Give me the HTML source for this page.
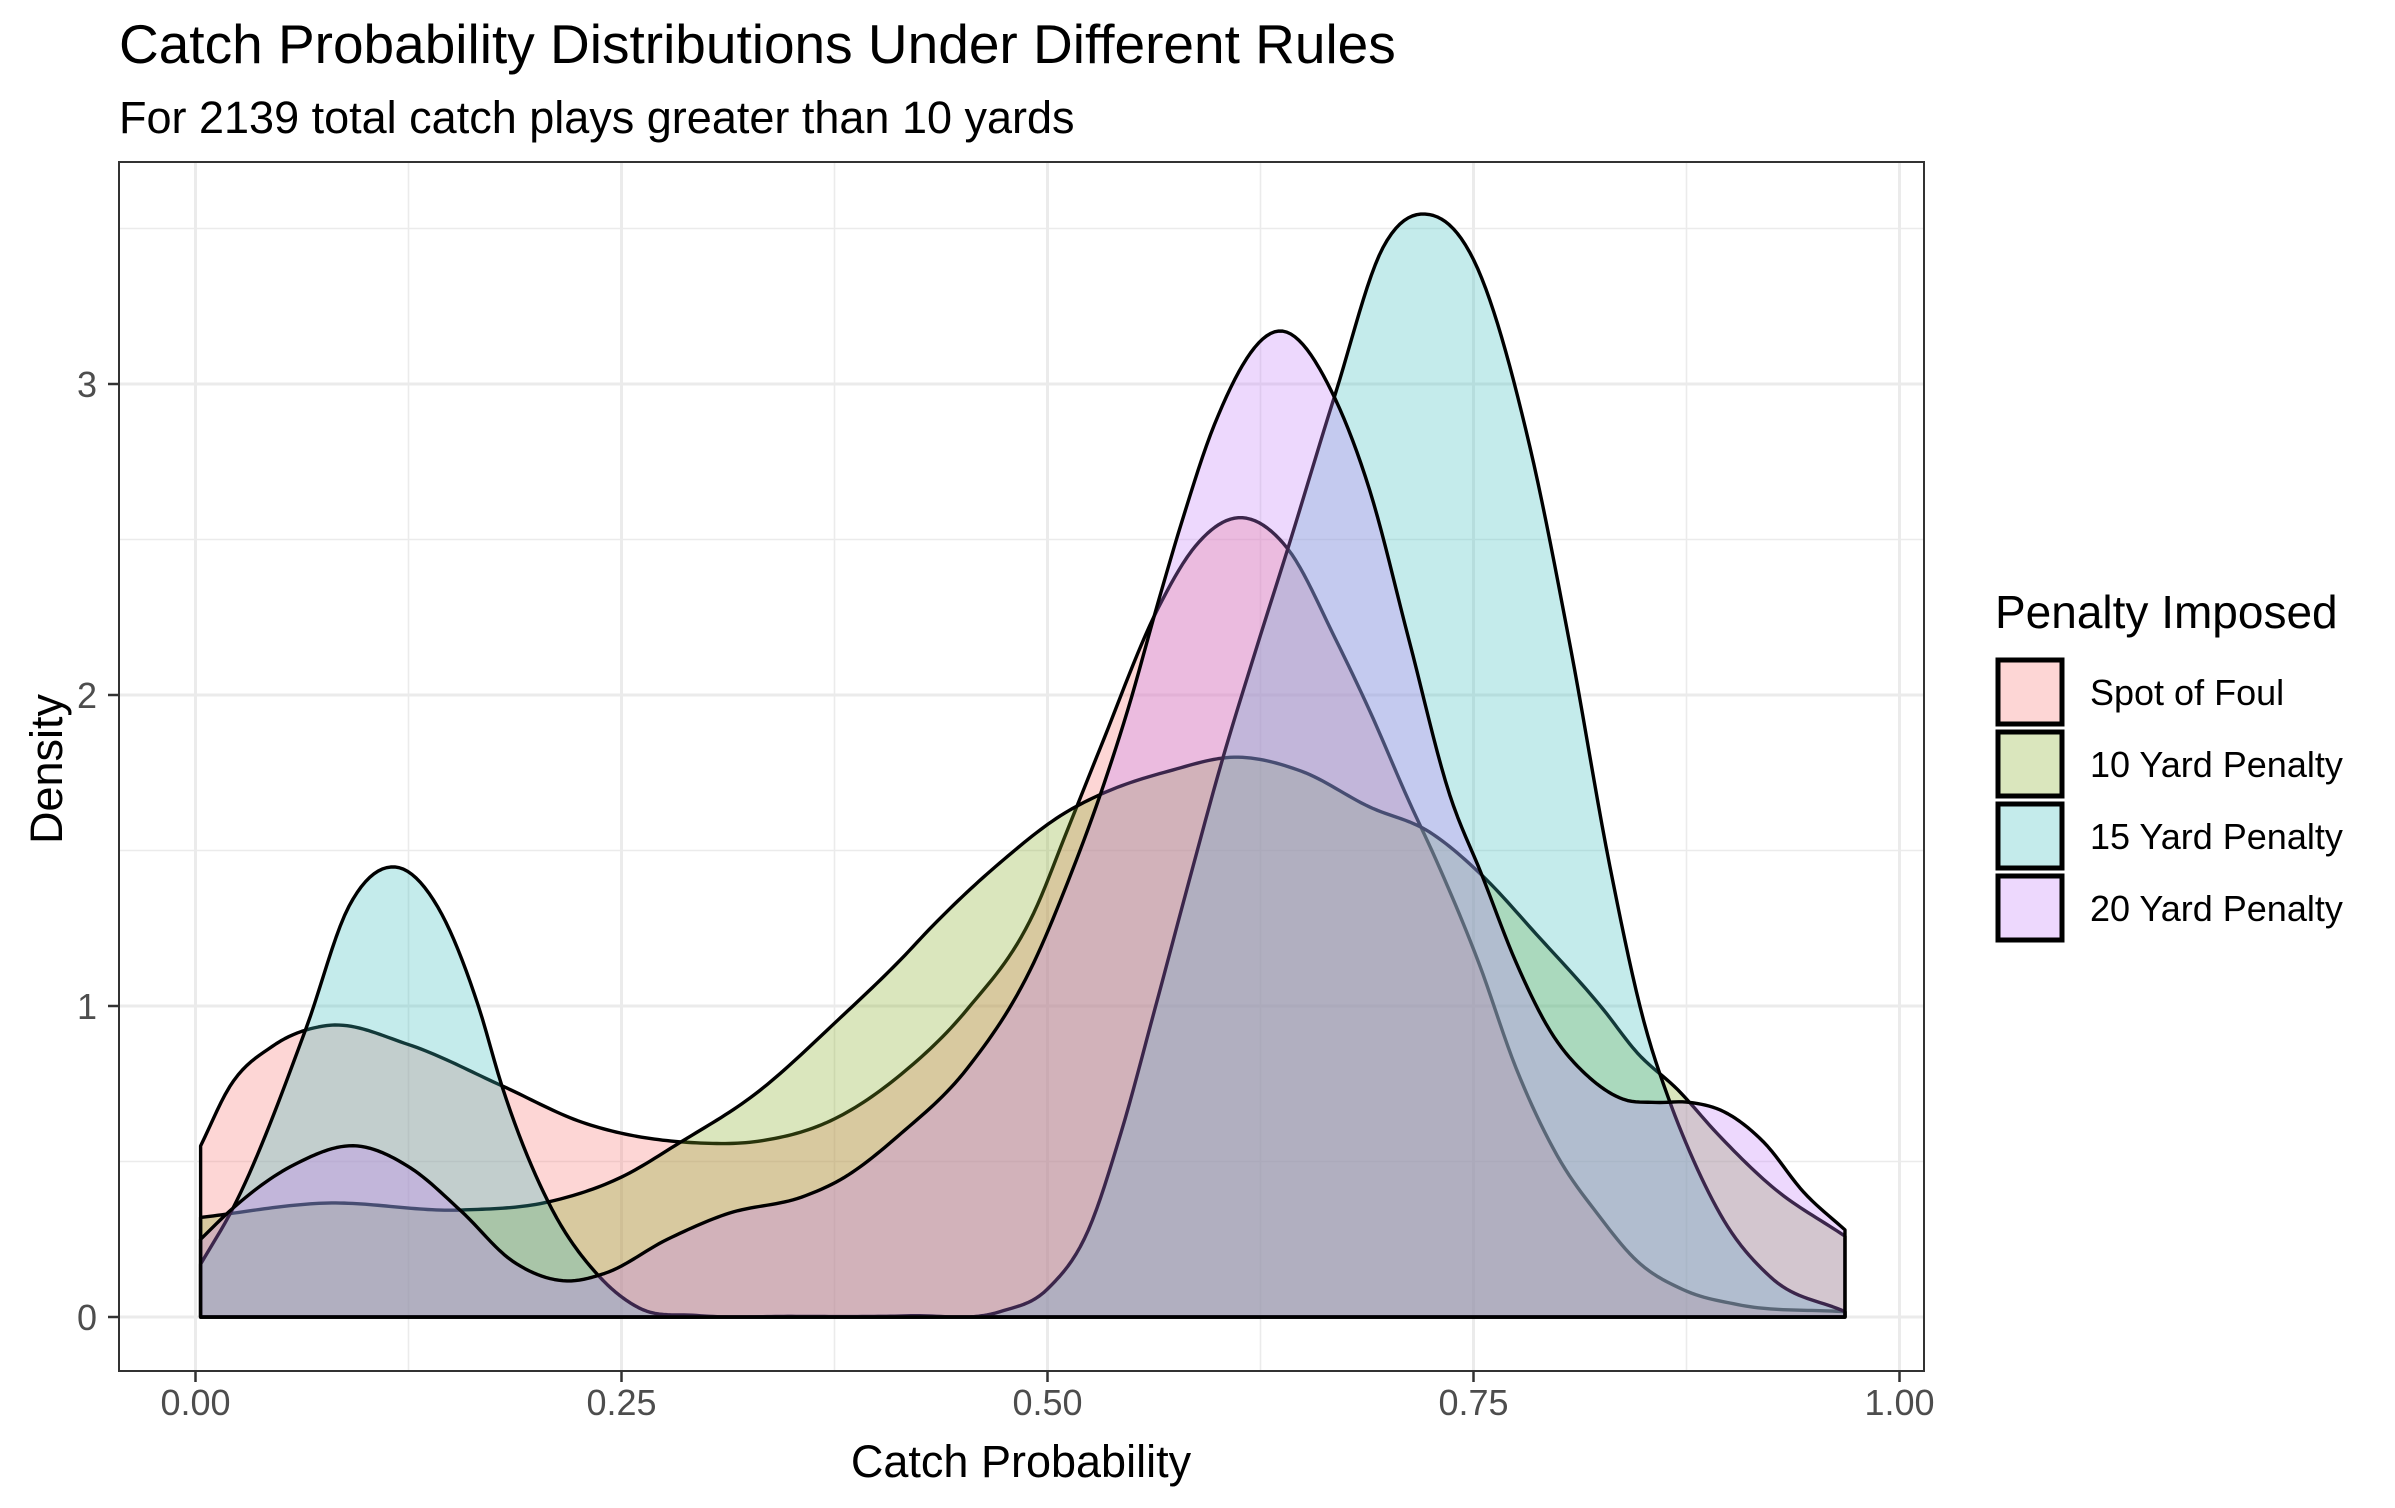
<!DOCTYPE html>
<html><head><meta charset="utf-8"><style>
html,body{margin:0;padding:0;background:#fff;}
svg{display:block;font-family:"Liberation Sans",Arial,sans-serif;}
</style></head><body>
<svg id="chart" width="2395" height="1508" viewBox="0 0 2395 1508" xmlns="http://www.w3.org/2000/svg">
<rect x="0" y="0" width="2395" height="1508" fill="#fff"/>
<text x="119" y="63" font-size="55" fill="#000">Catch Probability Distributions Under Different Rules</text>
<text x="119" y="133" font-size="45" fill="#000">For 2139 total catch plays greater than 10 yards</text>
<g id="grid"></g>
<g id="areas"></g>
<rect x="119" y="162" width="1805" height="1209" fill="none" stroke="#333" stroke-width="2"/>
<g id="axes"></g>
<text x="1021" y="1477" font-size="45" text-anchor="middle" fill="#000">Catch Probability</text>
<text x="0" y="0" font-size="45" text-anchor="middle" fill="#000" transform="translate(62,769) rotate(-90)">Density</text>
<text x="1995" y="628" font-size="46" fill="#000">Penalty Imposed</text>
<g id="legend"></g>
</svg>
<script>
const categories = ["Spot of Foul", "10 Yard Penalty", "15 Yard Penalty", "20 Yard Penalty"];
const xTicks = [0, 0.25, 0.5, 0.75, 1.0];
const xTickLabels = ["0.00", "0.25", "0.50", "0.75", "1.00"];
const yTicks = [0, 1, 2, 3];
const yTickLabels = ["0", "1", "2", "3"];
const spotX = [0.003,0.02,0.045,0.077,0.125,0.18,0.227,0.294,0.33,0.375,0.414,0.453,0.492,0.512,0.531,0.565,0.587,0.612,0.641,0.669,0.689,0.712,0.728,0.753,0.775,0.799,0.823,0.846,0.873,0.905,0.968];
const spotY = [0.55,0.74,0.87,0.937,0.876,0.743,0.626,0.56,0.565,0.637,0.78,0.99,1.30,1.57,1.83,2.28,2.48,2.57,2.47,2.18,1.95,1.66,1.47,1.14,0.80,0.52,0.33,0.18,0.088,0.04,0.017];
const yd10X = [0.003,0.075,0.156,0.207,0.25,0.284,0.328,0.378,0.414,0.433,0.472,0.51,0.531,0.571,0.612,0.649,0.689,0.724,0.755,0.787,0.826,0.846,0.87,0.893,0.925,0.968];
const yd10Y = [0.32,0.366,0.344,0.37,0.45,0.56,0.715,0.96,1.15,1.26,1.46,1.62,1.68,1.755,1.8,1.755,1.64,1.56,1.42,1.23,0.99,0.85,0.73,0.59,0.42,0.26];
const yd15X = [0.003,0.022,0.065,0.09,0.117,0.142,0.166,0.18,0.207,0.237,0.26,0.294,0.35,0.42,0.472,0.5,0.524,0.543,0.563,0.583,0.602,0.622,0.641,0.669,0.697,0.724,0.75,0.783,0.807,0.83,0.85,0.866,0.877,0.897,0.924,0.968];
const yd15Y = [0.17,0.35,0.93,1.32,1.447,1.32,1.0,0.74,0.37,0.13,0.03,0.005,0.002,0.004,0.017,0.09,0.28,0.59,0.99,1.40,1.78,2.14,2.47,2.97,3.44,3.545,3.40,2.80,2.15,1.45,0.95,0.68,0.53,0.31,0.13,0.017];
const yd20X = [0.003,0.022,0.058,0.095,0.126,0.156,0.186,0.218,0.24,0.277,0.311,0.358,0.378,0.414,0.453,0.492,0.512,0.531,0.547,0.565,0.579,0.598,0.638,0.669,0.689,0.712,0.736,0.755,0.775,0.795,0.818,0.838,0.857,0.877,0.897,0.92,0.944,0.968];
const yd20Y = [0.25,0.35,0.49,0.55,0.48,0.34,0.18,0.116,0.14,0.25,0.33,0.39,0.44,0.59,0.80,1.14,1.40,1.68,1.95,2.30,2.56,2.87,3.17,2.95,2.66,2.18,1.68,1.42,1.14,0.92,0.77,0.70,0.69,0.69,0.66,0.564,0.4,0.28];

const seriesX = [spotX, yd10X, yd15X, yd20X];
const seriesY = [spotY, yd10Y, yd15Y, yd20Y];
const colors = ["#F87673", "#84AC26", "#3ABCBC", "#C37DF8"];
const NS = "http://www.w3.org/2000/svg";
const PL = 119, PR = 1924, PT = 162, PB = 1371;
function sx(v) { return 195.5 + v * 1704; }
function sy(v) { return 1317 - v * 311; }
function mk(tag, attrs, parent) {
  const e = document.createElementNS(NS, tag);
  for (const k in attrs) e.setAttribute(k, attrs[k]);
  parent.appendChild(e);
  return e;
}
const grid = document.getElementById('grid');
[0.125, 0.375, 0.625, 0.875].forEach(v => {
  const l = mk('line', {x1: sx(v), x2: sx(v), y1: PT, y2: PB, stroke: '#EBEBEB', 'stroke-width': 1.6}, grid);
  
  
});
[0.5, 1.5, 2.5, 3.5].forEach(v => {
  const l = mk('line', {x1: PL, x2: PR, y1: sy(v), y2: sy(v), stroke: '#EBEBEB', 'stroke-width': 1.6}, grid);
  
  
});
xTicks.forEach(v => {
  const l = mk('line', {x1: sx(v), x2: sx(v), y1: PT, y2: PB, stroke: '#EBEBEB', 'stroke-width': 3}, grid);
  
  
});
yTicks.forEach(v => {
  const l = mk('line', {x1: PL, x2: PR, y1: sy(v), y2: sy(v), stroke: '#EBEBEB', 'stroke-width': 3}, grid);
  
  
});
function sampleCurve(xs, ys) {
  const n = xs.length, m = [];
  for (let i = 0; i < n; i++) {
    if (i === 0) m.push((ys[1] - ys[0]) / (xs[1] - xs[0]));
    else if (i === n - 1) m.push((ys[n - 1] - ys[n - 2]) / (xs[n - 1] - xs[n - 2]));
    else {
      const h0 = xs[i] - xs[i - 1], h1 = xs[i + 1] - xs[i];
      const d0 = (ys[i] - ys[i - 1]) / h0, d1 = (ys[i + 1] - ys[i]) / h1;
      m.push((d0 * h1 + d1 * h0) / (h0 + h1));
    }
  }
  const pts = [];
  for (let i = 0; i < n - 1; i++) {
    const h = xs[i + 1] - xs[i];
    const steps = Math.max(4, Math.ceil(h * 400));
    for (let s = 0; s < steps; s++) {
      const t = s / steps, t2 = t * t, t3 = t2 * t;
      const y = (2 * t3 - 3 * t2 + 1) * ys[i] + (t3 - 2 * t2 + t) * h * m[i] + (-2 * t3 + 3 * t2) * ys[i + 1] + (t3 - t2) * h * m[i + 1];
      pts.push([sx(xs[i] + t * h), sy(Math.max(0, y))]);
    }
  }
  pts.push([sx(xs[n - 1]), sy(ys[n - 1])]);
  return pts;
}
const areas = document.getElementById('areas');
categories.forEach((c, i) => {
  const xs = seriesX[i], ys = seriesY[i];
  const pts = sampleCurve(xs, ys);
  let d = 'M' + sx(xs[0]).toFixed(2) + ',' + sy(0);
  pts.forEach(p => { d += ' L' + p[0].toFixed(2) + ',' + p[1].toFixed(2); });
  d += ' L' + sx(xs[xs.length - 1]).toFixed(2) + ',' + sy(0) + ' Z';
  const p = mk('path', {d: d, fill: colors[i], 'fill-opacity': 0.3, stroke: '#000', 'stroke-width': 3.4, 'stroke-linejoin': 'round'}, areas);
  
  
});
const axes = document.getElementById('axes');
xTicks.forEach((v, i) => {
  const t = mk('line', {x1: sx(v), x2: sx(v), y1: PB, y2: PB + 11, stroke: '#333', 'stroke-width': 2.5}, axes);
  
  
  const tx = mk('text', {x: sx(v), y: PB + 44, 'font-size': 36, 'text-anchor': 'middle', fill: '#4D4D4D'}, axes);
  tx.textContent = xTickLabels[i];
  
  
});
yTicks.forEach((v, i) => {
  const t = mk('line', {x1: PL - 11, x2: PL, y1: sy(v), y2: sy(v), stroke: '#333', 'stroke-width': 2.5}, axes);
  
  
  const tx = mk('text', {x: 97, y: sy(v) + 13, 'font-size': 36, 'text-anchor': 'end', fill: '#4D4D4D'}, axes);
  tx.textContent = yTickLabels[i];
  
  
});
const legend = document.getElementById('legend');
categories.forEach((c, i) => {
  const top = 657 + i * 72;
  const r = mk('rect', {x: 1998, y: top + 3, width: 64, height: 64, fill: colors[i], 'fill-opacity': 0.3, stroke: '#000', 'stroke-width': 5}, legend);
  
  
  const t = mk('text', {x: 2090, y: top + 48, 'font-size': 36, fill: '#000'}, legend);
  t.textContent = c;
  
  
});
</script>
</body></html>
